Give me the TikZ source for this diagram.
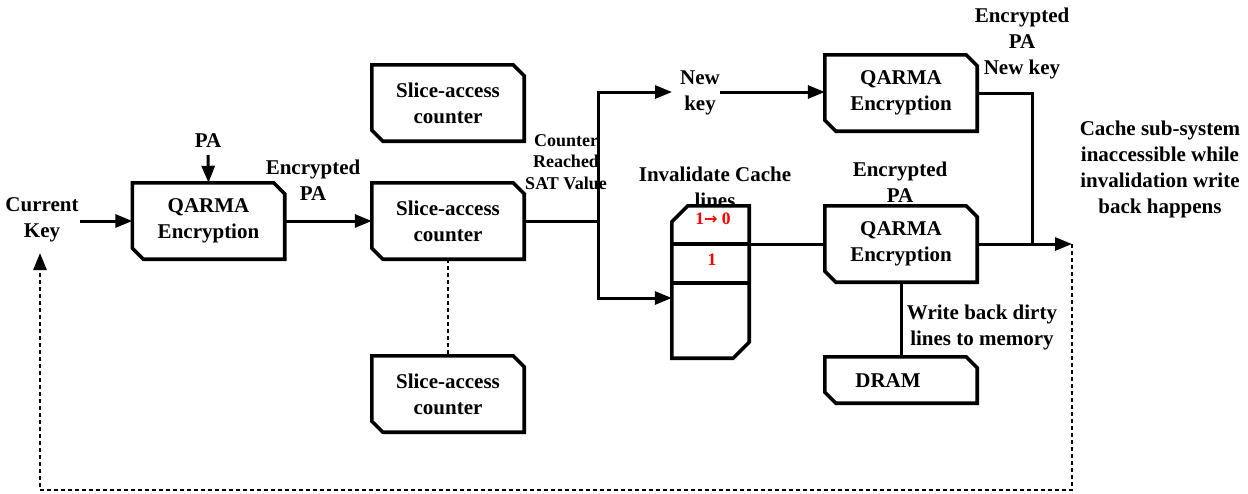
\documentclass[tikz,border=0pt]{standalone}
\usepackage{fontspec}
\setmainfont{Liberation Serif}
\newfontfamily\arrowfont{DejaVu Sans}
\usetikzlibrary{arrows.meta,calc}
\begin{document}
\begin{tikzpicture}[x=1pt,y=-1pt,
  lbl/.style={font=\bfseries\fontsize{21}{26}\selectfont, align=center, inner sep=0pt},
  slbl/.style={font=\bfseries\fontsize{18}{21.5}\selectfont, align=center, inner sep=0pt},
  rlbl/.style={font=\bfseries\fontsize{17.5}{20}\selectfont, text=red, inner sep=0pt},
  blk/.style={draw=none, minimum width=152pt, minimum height=76pt, inner sep=0pt, align=center, font=\bfseries\fontsize{21}{26}\selectfont},
  outl/.style={line width=3.6pt, line join=miter},
  conn/.style={line width=3pt},
  arr/.style={line width=3pt, -{Triangle[length=17pt,width=13pt]}},
  dsh/.style={line width=2.8pt, dash pattern=on 4pt off 3pt},
  dsharr/.style={line width=2.8pt, dash pattern=on 4pt off 3pt, -{Triangle[length=17pt,width=13pt]}},
]
\useasboundingbox (0,0) rectangle (1248,493);
\newcommand{\chamfbox}[2]{%
  \draw[outl] (#1.north west) -- ([xshift=-#2pt]#1.north east) -- ([yshift=-#2pt]#1.north east)
   -- (#1.south east) -- ([xshift=#2pt]#1.south west) -- ([yshift=#2pt]#1.south west) -- cycle;}

% blocks
\node[blk] (q1) at (208.5,221) {QARMA\\Encryption};
\node[blk] (s0) at (448,103) {Slice-access\\counter};
\node[blk] (s1) at (448,221) {Slice-access\\counter};
\node[blk] (s2) at (448,394) {Slice-access\\counter};
\node[blk] (q3) at (901,93) {QARMA\\Encryption};
\node[blk] (q2) at (901,244) {QARMA\\Encryption};
\node[blk, minimum height=46pt] (dram) at (901,380) {};
\node[font=\bfseries\fontsize{21}{26}\selectfont, inner sep=0pt] (dramt) at (888,381) {DRAM};
\chamfbox{q1}{11}
\chamfbox{s0}{11}
\chamfbox{s1}{11}
\chamfbox{s2}{11}
\chamfbox{q3}{11}
\chamfbox{q2}{11}
\chamfbox{dram}{11}

% cache block
\node[draw=none, minimum width=77pt, minimum height=152pt, inner sep=0pt] (cache) at (710.5,282) {};
\draw[outl] ([yshift=-16pt]cache.north west) -- ([xshift=16pt]cache.north west) -- (cache.north east)
  -- ([yshift=16pt]cache.south east) -- ([xshift=-16pt]cache.south east) -- (cache.south west) -- cycle;
\coordinate (d1l) at (672,244); \coordinate (d1r) at (749,244);
\coordinate (d2l) at (672,283); \coordinate (d2r) at (749,283);
\draw[outl] (d1l) -- (d1r);
\draw[outl] (d2l) -- (d2r);
\node[rlbl] (bit1) at (713,219) {1{\arrowfont\bfseries\fontsize{16}{18}\selectfont →} 0};
\node[rlbl] (bit2) at (712,260) {1};

% labels
\node[lbl] (ck) at (42,220) {Current\\Key};
\node[lbl] (pa) at (208,141) {PA};
\node[lbl] (epa1) at (313,180) {Encrypted\\PA};
\node[slbl] (sat) at (566,162) {Counter\\Reached\\SAT Value};
\node[lbl] (nk) at (700,93) {New\\key};
\node[lbl] (epank) at (1022,43) {Encrypted\\PA\\New key};
\node[lbl] (inv) at (715,187) {Invalidate Cache\\lines};
\node[lbl] (epa2) at (900,182) {Encrypted\\PA};
\node[lbl] (cs) at (1160,169) {Cache sub-system\\inaccessible while\\invalidation write\\back happens};
\node[lbl] (wb) at (982,327) {Write back dirty\\lines to memory};

% connectors
\coordinate (ckout) at (80,221);
\draw[arr] (ckout) -- (q1.west);
\coordinate (paout) at (208,155);
\draw[arr] (paout) -- (q1.north);
\draw[arr] (q1.east) -- (s1.west);
\coordinate (br) at (598,221);
\coordinate (brt) at (598,92);
\coordinate (brb) at (598,298);
\draw[conn] (s1.east) -- (br);
\draw[conn] (brt) -- (brb);
\draw[arr] ([xshift=-1.5pt]brt) -- (672,92) coordinate (nkin);
\coordinate (nkout) at (720,92);
\draw[arr] (nkout) -- (q3.west |- nkout);
\draw[arr] ([xshift=-1.5pt]brb) -- (cache.west |- brb);
\draw[conn] (d1r) -- (q2.west);
\coordinate (mj) at (1032,244);
\coordinate (outp) at (1072,244);
\draw[conn] (q3.east) -| (mj);
\draw[arr] (q2.east) -- (outp);
\draw[conn] (q2.south) -- (dram.north);
\draw[dsh] (s1.south) -- (s2.north);
\coordinate (fb1) at (1072,490);
\coordinate (fb2) at (40,490);
\coordinate (fbend) at (40,253);
\draw[dsharr] (outp) -- (fb1) -- (fb2) -- (fbend);
\end{tikzpicture}
\end{document}
